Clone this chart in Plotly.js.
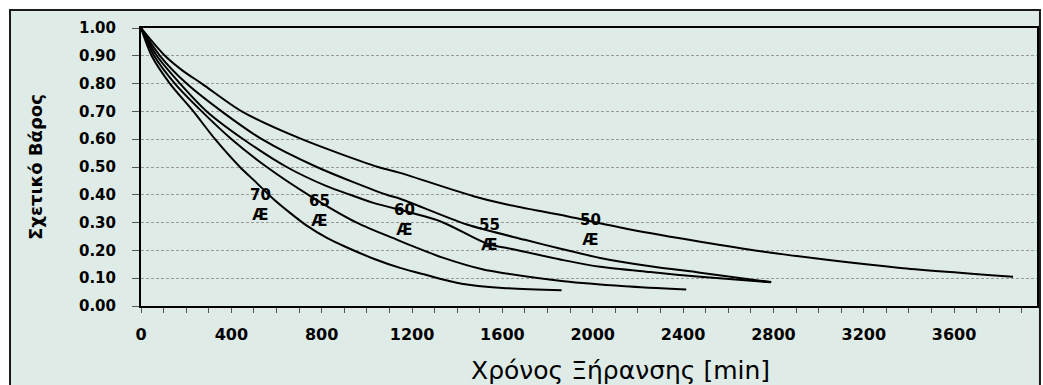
<!DOCTYPE html>
<html>
<head>
<meta charset="utf-8">
<script src="https://cdn.plot.ly/plotly-3.0.1.min.js"></script>
<style>
html,body{margin:0;padding:0;background:#ffffff;}
#chart{width:1043px;height:385px;}
</style>
</head>
<body>
<div id="chart"></div>
<script>
// Drying time (min) and relative weight for each temperature
const t70 = [0, 47, 128, 232, 328, 438, 512, 586, 660, 734, 823, 900, 1030, 1147, 1256, 1419, 1600, 1862];
const w70 = [1.00, 0.90, 0.80, 0.70, 0.60, 0.50, 0.443, 0.385, 0.335, 0.289, 0.245, 0.215, 0.170, 0.137, 0.113, 0.080, 0.065, 0.057];

const t65 = [0, 58, 150, 269, 401, 557, 741, 955, 1132, 1219, 1339, 1516, 1600, 1872, 2143, 2414];
const w65 = [1.00, 0.90, 0.80, 0.70, 0.60, 0.50, 0.40, 0.30, 0.239, 0.210, 0.173, 0.131, 0.119, 0.089, 0.071, 0.059];

const t60 = [0, 70, 173, 291, 453, 645, 822, 926, 1029, 1324, 1530, 1654, 1870, 2033, 2255, 2476, 2790];
const w60 = [1.00, 0.90, 0.80, 0.70, 0.60, 0.50, 0.431, 0.40, 0.371, 0.305, 0.225, 0.203, 0.165, 0.141, 0.122, 0.105, 0.085];

const t55 = [0, 84, 202, 357, 535, 778, 1088, 1147, 1443, 1700, 1872, 2033, 2255, 2476, 2790];
const w55 = [1.00, 0.90, 0.80, 0.70, 0.60, 0.50, 0.40, 0.386, 0.293, 0.238, 0.203, 0.173, 0.143, 0.120, 0.086];

const t50 = [0, 106, 187, 269, 446, 712, 1050, 1147, 1472, 1620, 1886, 2166, 2476, 2744, 3220, 3362, 3861];
const w50 = [1.00, 0.90, 0.845, 0.80, 0.70, 0.60, 0.50, 0.479, 0.395, 0.365, 0.323, 0.275, 0.231, 0.197, 0.149, 0.137, 0.105];

// Curve labels (temperature) and their anchor points on the chart
const labelNames = ['70', '65', '60', '55', '50'];
const labelX = [529, 791, 1167, 1541, 1990];
const labelY = [0.365, 0.341, 0.310, 0.254, 0.275];

// Axis ticks
const yTicks = [0, 0.1, 0.2, 0.3, 0.4, 0.5, 0.6, 0.7, 0.8, 0.9, 1.0];
const yTickText = ['0.00', '0.10', '0.20', '0.30', '0.40', '0.50', '0.60', '0.70', '0.80', '0.90', '1.00'];
const xTicks = [0, 400, 800, 1200, 1600, 2000, 2400, 2800, 3200, 3600];
const xTickText = ['0', '400', '800', '1200', '1600', '2000', '2400', '2800', '3200', '3600'];

const xTitle = 'Χρόνος Ξήρανσης [min]';
const yTitle = 'Σχετικό Βάρος';

const FONT = 'DejaVu Sans, Verdana, sans-serif';

const series = [[t70, w70], [t65, w65], [t60, w60], [t55, w55], [t50, w50]];
const traces = series.map((s, i) => ({
  x: s[0], y: s[1], type: 'scatter', mode: 'lines',
  name: labelNames[i],
  line: {color: '#000000', width: 2, shape: 'spline', smoothing: 0.8},
  hoverinfo: 'x+y'
}));

const bg = '#DEEBE6';
const annotations = labelNames.map((n, i) => ({
  x: labelX[i], y: labelY[i], xref: 'x', yref: 'y',
  text: '<b>' + n + '<br>Æ</b>', showarrow: false,
  font: {family: FONT, size: 15, color: '#000'},
  xanchor: 'center', yanchor: 'middle'
}));
annotations.push({
  x: 0.5357, y: -0.2316, xref: 'paper', yref: 'paper',
  text: xTitle, showarrow: false,
  font: {family: FONT, size: 25, color: '#000'},
  xanchor: 'center', yanchor: 'middle'
});
annotations.push({
  x: -0.1183, y: 0.5, xref: 'paper', yref: 'paper',
  text: '<b>' + yTitle + '</b>', showarrow: false, textangle: -90,
  font: {family: FONT, size: 18, color: '#000'},
  xanchor: 'center', yanchor: 'middle'
});

const layout = {
  width: 1043, height: 385,
  margin: {l: 141, r: 6, t: 28, b: 79, pad: 0},
  paper_bgcolor: '#ffffff',
  plot_bgcolor: bg,
  showlegend: false,
  shapes: [{
    type: 'rect', xref: 'paper', yref: 'paper', layer: 'below',
    x0: -0.1462, x1: 1.0033, y0: -0.34, y1: 1.0646,
    fillcolor: bg, line: {color: '#1a1a1a', width: 2}
  }],
  xaxis: {
    range: [0, 3967],
    tickmode: 'array', tickvals: xTicks, ticktext: xTickText.map(s => '<b>' + s + '</b>'),
    showgrid: false, zeroline: false,
    showline: true, linecolor: '#000', linewidth: 2, mirror: true,
    ticks: 'outside', ticklen: 5, tickcolor: '#555', tickwidth: 1,
    minor: {tickmode: 'linear', tick0: 0, dtick: 100, ticks: 'outside', ticklen: 5, tickcolor: '#555', showgrid: false},
    tickfont: {family: FONT, size: 16, color: '#000', weight: 700},
    ticklabelstandoff: 8
  },
  yaxis: {
    range: [0, 1],
    tickmode: 'array', tickvals: yTicks, ticktext: yTickText.map(s => '<b>' + s + '</b>'),
    showgrid: true, gridcolor: '#9a9a9a', gridwidth: 1, griddash: '3px,2px',
    zeroline: false,
    showline: true, linecolor: '#000', linewidth: 2, mirror: true,
    ticks: 'outside', ticklen: 7, tickcolor: '#555', tickwidth: 1,
    tickfont: {family: FONT, size: 15, color: '#000', weight: 700},
    ticklabelstandoff: 13
  },
  annotations: annotations
};

Plotly.newPlot('chart', traces, layout, {displayModeBar: false, staticPlot: true});
</script>
</body>
</html>
